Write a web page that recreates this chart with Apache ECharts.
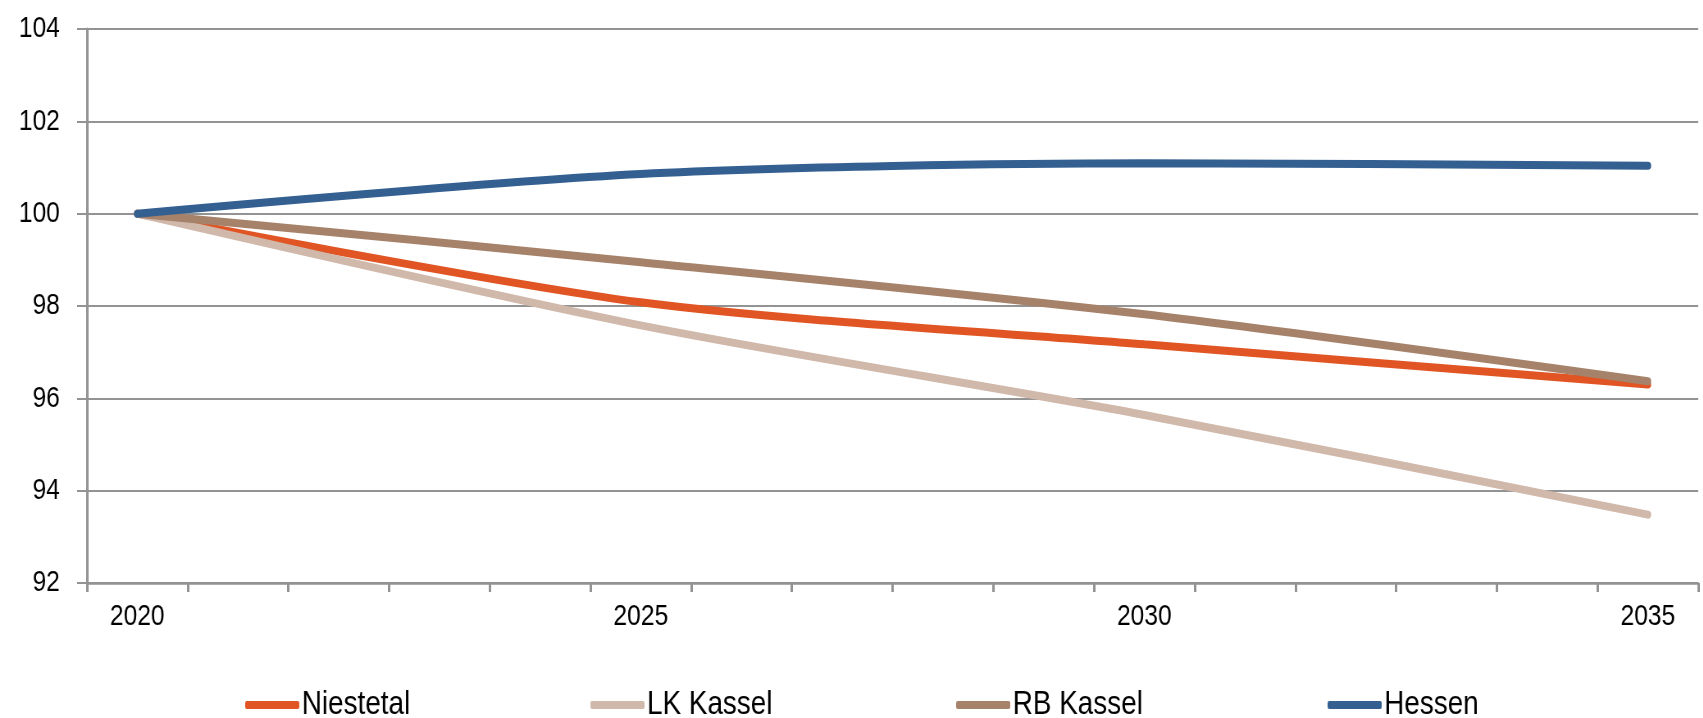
<!DOCTYPE html>
<html>
<head>
<meta charset="utf-8">
<script src="https://cdn.jsdelivr.net/npm/echarts@6/dist/echarts.min.js"></script>
<style>
  html, body { margin: 0; padding: 0; background: #fff; overflow: hidden; }
  #wrap { width: 1703px; height: 718px; overflow: hidden; }
  /* schmale Schrift nachbilden: breiter zeichnen, horizontal stauchen */
  #chart { width: 2077px; height: 718px; transform: scaleX(0.82); transform-origin: 0 0; }
</style>
</head>
<body>
<div id="wrap"><div id="chart"></div></div>
<script>
// Jahre 2020..2035, Werte nur für die Stützjahre
const years = ['2020', '2021', '2022', '2023', '2024', '2025', '2026', '2027',
  '2028', '2029', '2030', '2031', '2032', '2033', '2034', '2035'];
const niestetal = [100, null, null, null, null, 98.08, null, null, null, null, 97.17, null, null, null, null, 96.3];
const lkKassel = [100, null, null, null, null, 97.58, null, null, null, null, 95.64, null, null, null, null, 93.48];
const rbKassel = [100, null, null, null, null, 98.95, null, null, null, null, 97.82, null, null, null, null, 96.37];
const hessen = [100, null, null, null, null, 100.86, null, null, null, null, 101.09, null, null, null, null, 101.04];
const seriesNames = ['Niestetal', 'LK Kassel', 'RB Kassel', 'Hessen'];
const yTicks = { min: 92, max: 104, interval: 2 };

const font = '"Liberation Sans", Arial, sans-serif';
const axisGray = '#939393';
const colors = ['#E05523', '#D0B8AA', '#A6826A', '#345F91'];
const legendLeft = [294, 715, 1161, 1614];

function line (name, data, color) {
  return {
    name: name,
    type: 'line',
    data: data,
    connectNulls: true,
    smooth: 0.28,
    showSymbol: false,
    lineStyle: { color: color, width: 8, cap: 'round' },
    itemStyle: { color: color }
  };
}

const myChart = echarts.init(document.getElementById('chart'));
myChart.setOption({
  animation: false,
  grid: { left: 106, right: 6, top: 29, bottom: 135 },
  legend: seriesNames.map((n, i) => ({
    left: legendLeft[i],
    top: 683,
    icon: 'roundRect',
    itemWidth: 66,
    itemHeight: 8,
    textStyle: { fontFamily: font, fontSize: 34, color: '#000', padding: [0, 0, 0, -2] },
    data: [n]
  })),
  xAxis: {
    type: 'category',
    data: years,
    boundaryGap: true,
    axisLine: { lineStyle: { color: axisGray, width: 2.5 } },
    axisTick: { show: true, interval: 0, length: 9, lineStyle: { color: axisGray, width: 3 } },
    axisLabel: { interval: 4, margin: 19, fontFamily: font, fontSize: 30, color: '#000' },
    splitLine: { show: false }
  },
  yAxis: {
    type: 'value',
    min: yTicks.min,
    max: yTicks.max,
    interval: yTicks.interval,
    axisLine: { show: true, lineStyle: { color: axisGray, width: 3 } },
    axisTick: { show: true, length: 12, lineStyle: { color: axisGray, width: 2 } },
    axisLabel: { margin: 33, fontFamily: font, fontSize: 30, color: '#000' },
    splitLine: { show: true, lineStyle: { color: axisGray, width: 1.8 } }
  },
  series: seriesNames.map((n, i) => line(n, [niestetal, lkKassel, rbKassel, hessen][i], colors[i]))
});
</script>
</body>
</html>
